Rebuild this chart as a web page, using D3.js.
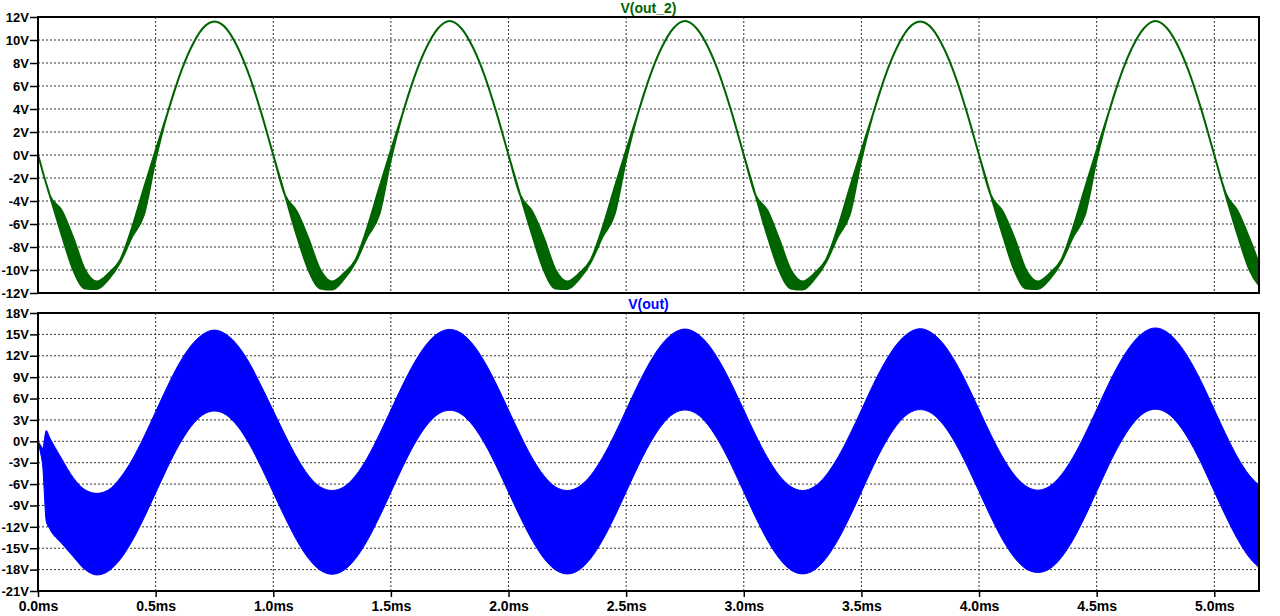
<!DOCTYPE html>
<html>
<head>
<meta charset="utf-8">
<script src="https://cdn.jsdelivr.net/npm/d3@7"></script>
<style>
  html, body { margin: 0; padding: 0; background: #fff; }
  svg text { font-family: "Liberation Sans", Arial, sans-serif; font-weight: bold; }
</style>
</head>
<body>
<svg id="plot"></svg>
<script>
      //begin: data (volts vs ms)
      var timeMs = [
        0, 0.01, 0.02, 0.035,
        0.05, 0.10, 0.15, 0.20, 0.25, 0.30, 0.35, 0.40, 0.45, 0.50, 0.55, 0.60, 0.65, 0.70, 0.75, 0.80, 0.85, 0.90, 0.95, 1.00,
        1.05, 1.10, 1.15, 1.20, 1.25, 1.30, 1.35, 1.40, 1.45, 1.50, 1.55, 1.60, 1.65, 1.70, 1.75, 1.80, 1.85, 1.90, 1.95, 2.00,
        2.05, 2.10, 2.15, 2.20, 2.25, 2.30, 2.35, 2.40, 2.45, 2.50, 2.55, 2.60, 2.65, 2.70, 2.75, 2.80, 2.85, 2.90, 2.95, 3.00,
        3.05, 3.10, 3.15, 3.20, 3.25, 3.30, 3.35, 3.40, 3.45, 3.50, 3.55, 3.60, 3.65, 3.70, 3.75, 3.80, 3.85, 3.90, 3.95, 4.00,
        4.05, 4.10, 4.15, 4.20, 4.25, 4.30, 4.35, 4.40, 4.45, 4.50, 4.55, 4.60, 4.65, 4.70, 4.75, 4.80, 4.85, 4.90, 4.95, 5.00,
        5.05, 5.10, 5.15, 5.20
      ];

      // V(out_2): upper / lower edge of the trace (equal where the trace is a thin line)
      var out2High = [
        0, -0.7, -1.45, -2.5,
        -3.5, -4.8, -7.2, -10.0, -11.0, -10.3, -9.1, -6.3, -2.9, 0.4, 3.6, 6.8, 9.3, 11.0, 11.6, 11.0, 9.3, 6.8, 3.6, 0,
        -3.5, -4.9, -7.3, -10.0, -11.0, -10.3, -9.1, -6.3, -2.9, 0.4, 3.6, 6.8, 9.3, 11.0, 11.65, 11.0, 9.3, 6.8, 3.6, 0,
        -3.5, -4.9, -7.2, -10.0, -11.0, -10.3, -9.1, -6.3, -2.9, 0.4, 3.6, 6.8, 9.3, 11.0, 11.65, 11.0, 9.3, 6.8, 3.6, 0,
        -3.5, -4.8, -7.3, -10.0, -11.0, -10.3, -9.1, -6.3, -2.9, 0.4, 3.6, 6.8, 9.3, 11.0, 11.6, 11.0, 9.3, 6.8, 3.6, 0,
        -3.5, -4.9, -7.2, -10.0, -11.0, -10.3, -9.1, -6.3, -2.9, 0.4, 3.6, 6.8, 9.3, 11.0, 11.65, 11.0, 9.3, 6.8, 3.6, 0,
        -3.4, -4.9, -7.3, -10.0
      ];
      var out2Low = [
        0, -0.7, -1.45, -2.5,
        -3.5, -6.9, -10.0, -11.6, -11.65, -10.8, -9.3, -7.1, -5.2, -0.4, 3.6, 6.8, 9.3, 11.0, 11.6, 11.0, 9.3, 6.8, 3.6, 0,
        -3.5, -7.0, -10.0, -11.6, -11.7, -10.8, -9.3, -7.1, -5.2, -0.4, 3.6, 6.8, 9.3, 11.0, 11.65, 11.0, 9.3, 6.8, 3.6, 0,
        -3.5, -6.9, -10.0, -11.6, -11.65, -10.8, -9.3, -7.1, -5.2, -0.4, 3.6, 6.8, 9.3, 11.0, 11.65, 11.0, 9.3, 6.8, 3.6, 0,
        -3.5, -7.0, -10.0, -11.6, -11.7, -10.8, -9.3, -7.1, -5.2, -0.4, 3.6, 6.8, 9.3, 11.0, 11.6, 11.0, 9.3, 6.8, 3.6, 0,
        -3.5, -6.9, -10.0, -11.6, -11.65, -10.8, -9.3, -7.1, -5.2, -0.4, 3.6, 6.8, 9.3, 11.0, 11.65, 11.0, 9.3, 6.8, 3.6, 0,
        -3.6, -7.0, -10.0, -11.6
      ];

      // V(out): ripple envelope, top and bottom
      var outHigh = [
        0, -0.5, -1.0, 1.5,
        0.5, -2.4, -5.1, -6.8, -7.3, -6.8, -5.1, -2.6, 0.6, 4.15, 7.7, 10.9, 13.4, 15.0, 15.6, 15.0, 13.4, 10.9, 7.7, 4.3,
        0.9, -2.25, -4.8, -6.4, -6.9, -6.4, -4.8, -2.3, 0.9, 4.4, 7.9, 11.05, 13.55, 15.15, 15.7, 15.15, 13.55, 11.05, 7.9, 4.4,
        0.9, -2.3, -4.8, -6.4, -6.9, -6.35, -4.75, -2.25, 0.9, 4.4, 7.9, 11.05, 13.55, 15.15, 15.75, 15.15, 13.55, 11.05, 7.9, 4.4,
        0.9, -2.25, -4.75, -6.35, -6.9, -6.35, -4.75, -2.25, 0.9, 4.4, 7.95, 11.1, 13.6, 15.2, 15.8, 15.2, 13.6, 11.1, 7.95, 4.45,
        0.95, -2.2, -4.7, -6.3, -6.85, -6.3, -4.7, -2.2, 0.95, 4.45, 8.0, 11.15, 13.65, 15.3, 15.9, 15.3, 13.65, 11.15, 8.0, 4.45,
        0.9, -2.3, -4.8, -6.4
      ];
      var outLow = [
        0, -1.5, -3.5, -11.2,
        -12.3, -14.3, -16.2, -18.0, -18.75, -18.2, -16.55, -14.0, -10.8, -7.25, -3.7, -0.5, 2.05, 3.7, 4.25, 3.7, 2.05, -0.5, -3.7, -7.2,
        -10.7, -13.9, -16.45, -18.1, -18.65, -18.1, -16.45, -13.9, -10.7, -7.15, -3.6, -0.4, 2.15, 3.8, 4.35, 3.8, 2.15, -0.4, -3.6, -7.15,
        -10.65, -13.85, -16.4, -18.05, -18.6, -18.05, -16.4, -13.85, -10.65, -7.1, -3.55, -0.35, 2.2, 3.85, 4.4, 3.85, 2.2, -0.35, -3.55, -7.1,
        -10.65, -13.85, -16.4, -18.05, -18.6, -18.05, -16.4, -13.85, -10.65, -7.1, -3.5, -0.3, 2.25, 3.9, 4.45, 3.9, 2.25, -0.3, -3.5, -7.05,
        -10.6, -13.8, -16.3, -17.9, -18.4, -17.9, -16.3, -13.8, -10.6, -7.05, -3.45, -0.25, 2.3, 3.95, 4.5, 3.95, 2.3, -0.25, -3.45, -7.05,
        -10.6, -13.8, -16.35, -18.0
      ];

      var timeTicks = [0, 0.5, 1.0, 1.5, 2.0, 2.5, 3.0, 3.5, 4.0, 4.5, 5.0];
      var out2Ticks = [-12, -10, -8, -6, -4, -2, 0, 2, 4, 6, 8, 10, 12];
      var outTicks = [-21, -18, -15, -12, -9, -6, -3, 0, 3, 6, 9, 12, 15, 18];
      //end: data

      //begin: layout conf.
      var svgWidth = 1280,
          svgHeight = 616,
          plotLeft = 38,
          plotRight = 1259,
          timeMax = 5.19,
          topPane = {top: 17, bottom: 293, domain: [-12, 12]},
          bottomPane = {top: 313, bottom: 591, domain: [-21, 18]};
      //end: layout conf.

      var green = "#006400",
          blue = "#0000ff";

      var svg = d3.select("#plot")
        .attr("width", svgWidth)
        .attr("height", svgHeight);

      svg.append("rect")
        .attr("width", svgWidth)
        .attr("height", svgHeight)
        .attr("fill", "#fff");

      var x = d3.scaleLinear()
        .domain([0, timeMax])
        .range([plotLeft, plotRight]);

      var yTop = d3.scaleLinear()
        .domain(topPane.domain)
        .range([topPane.bottom, topPane.top]);

      var yBottom = d3.scaleLinear()
        .domain(bottomPane.domain)
        .range([bottomPane.bottom, bottomPane.top]);

      var rows = timeMs.map(function(t, i) {
        return {t: t, g1: out2High[i], g0: out2Low[i], b1: outHigh[i], b0: outLow[i]};
      });

      drawPane(topPane, yTop, out2Ticks, "clipTop", "g0", "g1", green, 2, "V(out_2)", false);
      drawPane(bottomPane, yBottom, outTicks, "clipBottom", "b0", "b1", blue, 1, "V(out)", true);

      function drawPane(pane, y, ticks, clipId, lowKey, highKey, color, lineWidth, title, showTime) {
        var h = pane.bottom - pane.top;

        svg.append("clipPath")
          .attr("id", clipId)
          .append("rect")
          .attr("x", plotLeft)
          .attr("y", pane.top)
          .attr("width", plotRight - plotLeft)
          .attr("height", h);

        // grid
        var grid = svg.append("g")
          .attr("stroke", "#333")
          .attr("stroke-width", 1)
          .attr("stroke-dasharray", "2,2");
        grid.selectAll(".hgrid")
          .data(ticks.slice(1, -1))
          .enter().append("line")
          .attr("x1", plotLeft).attr("x2", plotRight)
          .attr("y1", function(d) { return y(d); })
          .attr("y2", function(d) { return y(d); });
        grid.selectAll(".vgrid")
          .data(timeTicks.slice(1))
          .enter().append("line")
          .attr("y1", pane.top).attr("y2", pane.bottom)
          .attr("x1", function(d) { return x(d); })
          .attr("x2", function(d) { return x(d); });

        // trace
        var area = d3.area()
          .curve(d3.curveMonotoneX)
          .x(function(d) { return x(d.t); })
          .y0(function(d) { return y(d[lowKey]); })
          .y1(function(d) { return y(d[highKey]); });

        svg.append("path")
          .datum(rows)
          .attr("clip-path", "url(#" + clipId + ")")
          .attr("d", area)
          .attr("fill", color)
          .attr("stroke", color)
          .attr("stroke-width", lineWidth)
          .attr("stroke-linejoin", "round");

        // frame
        svg.append("rect")
          .attr("x", plotLeft)
          .attr("y", pane.top)
          .attr("width", plotRight - plotLeft)
          .attr("height", h)
          .attr("fill", "none")
          .attr("stroke", "#000")
          .attr("stroke-width", 2);

        // y axis
        var yAxis = svg.append("g")
          .attr("transform", "translate(" + plotLeft + ",0)")
          .call(d3.axisLeft(y)
            .tickValues(ticks)
            .tickSize(8)
            .tickPadding(1)
            .tickFormat(function(d) { return d + "V"; }));
        yAxis.select(".domain").remove();
        yAxis.selectAll(".tick line").attr("stroke", "#000").attr("stroke-width", 1.5);
        yAxis.selectAll("text")
          .attr("fill", "#000")
          .style("font-size", "13px")
          .style("font-family", "'Liberation Sans', Arial, sans-serif")
          .style("font-weight", "bold");

        // time axis (bottom pane only)
        if (showTime) {
          var xAxis = svg.append("g")
            .attr("transform", "translate(0," + pane.bottom + ")")
            .call(d3.axisBottom(x)
              .tickValues(timeTicks)
              .tickSize(6)
              .tickPadding(4)
              .tickFormat(function(d) { return d3.format(".1f")(d) + "ms"; }));
          xAxis.select(".domain").remove();
          xAxis.selectAll(".tick line").attr("stroke", "#000").attr("stroke-width", 1.5);
          xAxis.selectAll("text")
            .attr("fill", "#000")
            .style("font-size", "14px")
            .style("font-family", "'Liberation Sans', Arial, sans-serif")
            .style("font-weight", "bold");
        }

        // title
        svg.append("text")
          .attr("x", (plotLeft + plotRight) / 2)
          .attr("y", pane.top - 4)
          .attr("text-anchor", "middle")
          .attr("fill", color)
          .style("font-size", "14px")
          .text(title);
      }
</script>
</body>
</html>
